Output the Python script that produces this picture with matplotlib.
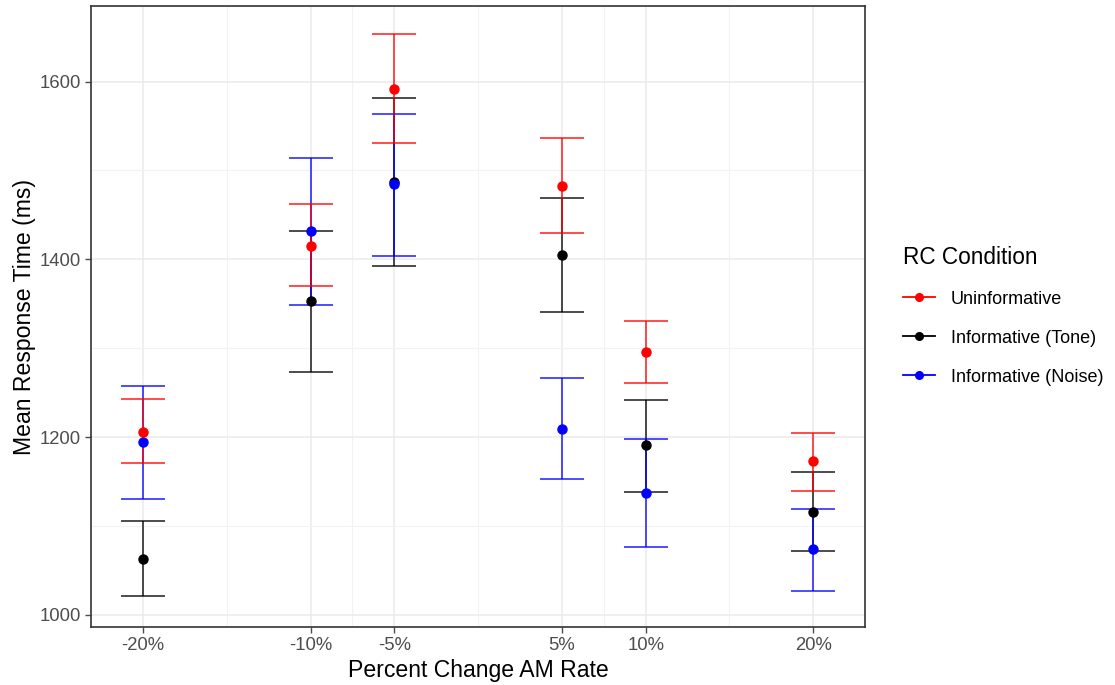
import numpy as np
import matplotlib
matplotlib.use('Agg')
import matplotlib.pyplot as plt
from matplotlib.lines import Line2D

plt.rcParams['font.family'] = ['Liberation Sans', 'DejaVu Sans']

pct = [-20, -10, -5, 5, 10, 20]
tick_labels = ['-20%', '-10%', '-5%', '5%', '10%', '20%']

# mean, lower, upper per condition
unin_mean = [1206, 1415, 1592, 1482, 1296, 1173]
unin_lo = [1171, 1370, 1531, 1430, 1261, 1139]
unin_hi = [1243, 1462, 1653, 1537, 1331, 1205]

tone_mean = [1063, 1353, 1487, 1405, 1191, 1116]
tone_lo = [1021, 1273, 1392, 1341, 1138, 1072]
tone_hi = [1106, 1432, 1582, 1469, 1242, 1161]

noise_mean = [1195, 1432, 1485, 1209, 1137, 1074]
noise_lo = [1131, 1349, 1404, 1153, 1076, 1027]
noise_hi = [1258, 1514, 1563, 1267, 1198, 1119]

series = [
    ('Informative (Tone)', 'black', tone_mean, tone_lo, tone_hi),
    ('Informative (Noise)', 'blue', noise_mean, noise_lo, noise_hi),
    ('Uninformative', 'red', unin_mean, unin_lo, unin_hi),
]
legend_order = ['Uninformative', 'Informative (Tone)', 'Informative (Noise)']

fig = plt.figure(figsize=(11.15, 6.85), dpi=100)
ax = fig.add_axes([0.0816, 0.0847, 0.6944, 0.9065])

x = np.array(pct, dtype=float)
handles = {}
for name, col, m, lo, hi in series:
    m = np.array(m); lo = np.array(lo); hi = np.array(hi)
    ax.errorbar(x, m, yerr=[m - lo, hi - m], fmt='none', ecolor=col,
                elinewidth=1.4, capsize=16, capthick=1.4, alpha=0.7, zorder=3)
    ax.plot(x, m, 'o', color=col, markersize=6.5, zorder=4)
    handles[name] = Line2D([0], [0], color=col, lw=1.3, alpha=1,
                           marker='o', markersize=5.5)

ax.set_xlim(-23.1, 23.1)
ax.set_ylim(986.5, 1685)
ax.set_xticks(pct)
ax.set_xticklabels(tick_labels)
ax.set_xticks([-15, -7.5, 0, 7.5, 15], minor=True)
ax.set_yticks([1000, 1200, 1400, 1600])
ax.set_yticks([1100, 1300, 1500], minor=True)
ax.grid(which='major', color='#EBEBEB', lw=1.1)
ax.grid(which='minor', color='#F2F2F2', lw=0.8)
ax.set_axisbelow(True)
ax.tick_params(which='major', colors='#4D4D4D', labelsize=13.3, length=4, width=1)
ax.tick_params(which='minor', length=0)
for s in ax.spines.values():
    s.set_color('#333333')
    s.set_linewidth(1.2)

ax.set_xlabel('Percent Change AM Rate', fontsize=16.6, labelpad=3)
ax.set_ylabel('Mean Response Time (ms)', fontsize=16.6, labelpad=2)

leg = fig.legend([handles[n] for n in legend_order], legend_order,
                 loc='upper left', bbox_to_anchor=(0.795, 0.665),
                 frameon=False, fontsize=13, title='RC Condition',
                 title_fontsize=16.3, handlelength=1.8, handletextpad=0.85,
                 labelspacing=1.22, alignment='left')

fig.savefig('out.png', dpi=100)
